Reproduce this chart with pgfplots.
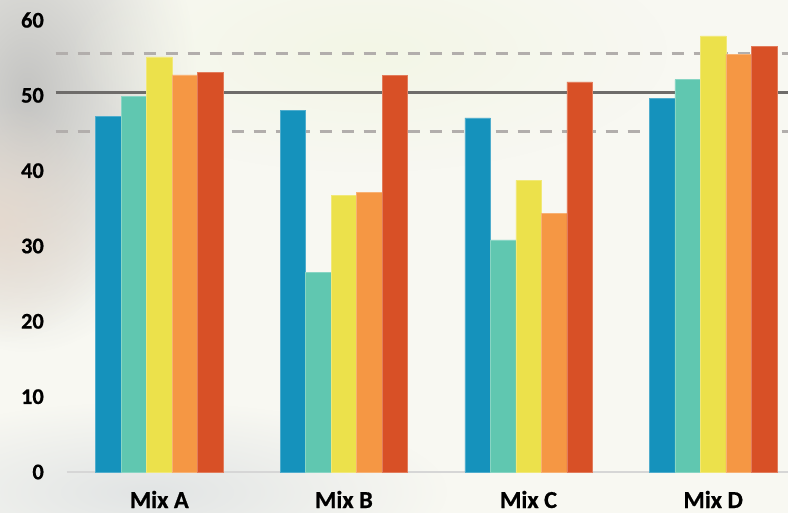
\documentclass[border=0pt]{standalone}
\usepackage{pgfplots}
\pgfplotsset{compat=1.18}
\usepackage{fontspec}
\setmainfont{Carlito}[BoldFont={Carlito Bold}, BoldFeatures={FakeBold=0.6}]
\usetikzlibrary{fadings}

\definecolor{cBlue}{HTML}{1592BC}
\definecolor{cTeal}{HTML}{60C7B0}
\definecolor{cYellow}{HTML}{ECE14B}
\definecolor{cOrange}{HTML}{F59744}
\definecolor{cRed}{HTML}{D85026}
\definecolor{bgbase}{HTML}{F8F8F2}
\definecolor{axisgray}{HTML}{D6D6D6}
\definecolor{refdark}{HTML}{6E6C6A}
\definecolor{refdash}{HTML}{B2AEAC}
\definecolor{blobgray}{HTML}{C4C4C2}
\definecolor{blobbeige}{HTML}{E6D8CC}
\definecolor{blobcool}{HTML}{D8DCDF}
\definecolor{blobcream}{HTML}{F3F6E6}

\tikzfading[name=softblob, inner color=transparent!0, outer color=transparent!100]

\pgfplotsset{
  mybar/.style={ybar, bar width=25.5bp, fill=#1, draw=#1!75!white, line width=0.5bp},
}

\begin{document}
\begin{tikzpicture}
  % canvas and soft backdrop
  \useasboundingbox (-67bp,-41bp) rectangle (721bp,472bp);
  \fill[bgbase] (-67bp,-41bp) rectangle (721bp,472bp);
  \fill[blobgray, path fading=softblob] (-40bp,380bp) ellipse (170bp and 260bp);
  \fill[blobbeige, path fading=softblob, opacity=0.8] (-70bp,250bp) ellipse (120bp and 120bp);
  \fill[blobcool, path fading=softblob, opacity=0.7] (80bp,-20bp) ellipse (300bp and 90bp);
  \fill[blobcream, path fading=softblob] (300bp,420bp) ellipse (300bp and 120bp);

  \begin{axis}[
    scale only axis, width=721bp, height=452bp,
    xmin=-0.5, xmax=3.4052, ymin=0, ymax=60,
    xtick={0,1,2,3}, xticklabels={Mix A,Mix B,Mix C,Mix D},
    ytick={0,10,...,60},
    axis x line*=bottom, axis y line*=left,
    y axis line style={draw=none},
    x axis line style={draw=axisgray, line width=2bp, -},
    major tick length=0pt,
    /pgf/number format/assume math mode=true,
    yticklabel style={font=\fontsize{22.5}{24}\selectfont\bfseries, text=black,
      anchor=east, inner sep=0pt, xshift=-23bp},
    xticklabel style={font=\fontsize{24.5}{26}\selectfont\bfseries, text=black,
      anchor=base, inner sep=0pt, yshift=-36bp},
    clip=false,
  ]
    % target band
    \addplot[no marks, sharp plot, draw=refdash, line width=3bp, dash pattern=on 12bp off 10bp]
      coordinates {(-0.561,55.5) (3.4052,55.5)};
    \addplot[no marks, sharp plot, draw=refdash, line width=3bp, dash pattern=on 12bp off 10bp]
      coordinates {(-0.561,45.2) (3.4052,45.2)};
    \addplot[no marks, sharp plot, draw=refdark, line width=2.5bp]
      coordinates {(-0.561,50.4) (3.4052,50.4)};

    % bars
    \addplot[mybar=cBlue, bar shift=-51bp]
      coordinates {(0,47.2) (1,48.0) (2,47.0) (3,49.6)};
    \addplot[mybar=cTeal, bar shift=-25.5bp]
      coordinates {(0,49.9) (1,26.5) (2,30.8) (3,52.1)};
    \addplot[mybar=cYellow, bar shift=0bp]
      coordinates {(0,55.1) (1,36.7) (2,38.7) (3,57.9)};
    \addplot[mybar=cOrange, bar shift=25.5bp]
      coordinates {(0,52.7) (1,37.1) (2,34.3) (3,55.4)};
    \addplot[mybar=cRed, bar shift=51bp]
      coordinates {(0,53.0) (1,52.6) (2,51.8) (3,56.5)};
  \end{axis}
\end{tikzpicture}
\end{document}
